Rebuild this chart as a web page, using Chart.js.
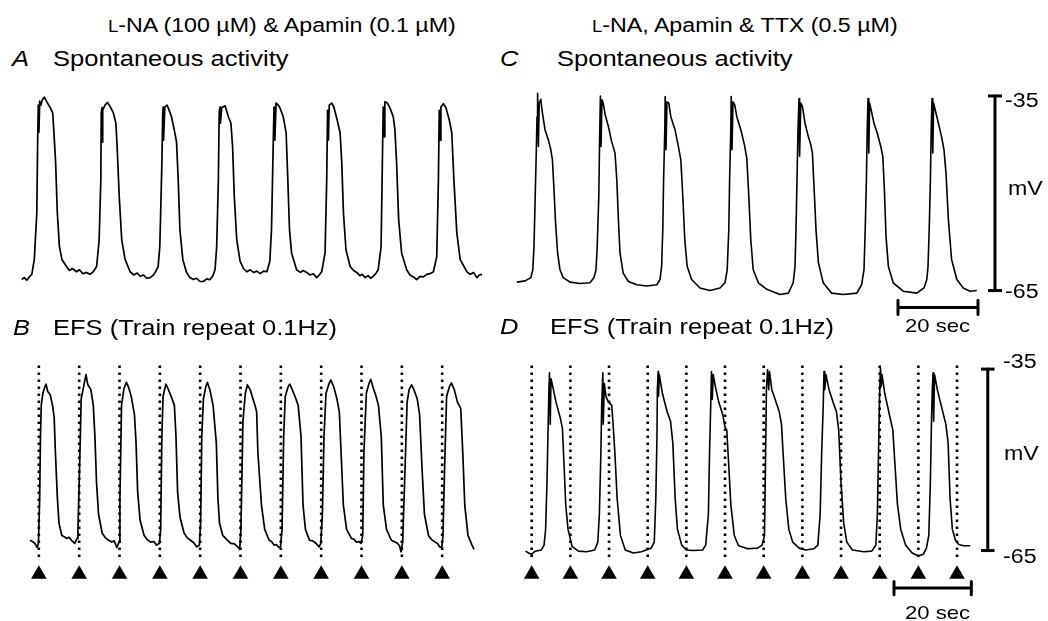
<!DOCTYPE html>
<html><head><meta charset="utf-8">
<script src="https://cdn.jsdelivr.net/npm/chart.js@4.4.1/dist/chart.umd.min.js"></script>
<style>
html,body{margin:0;padding:0;background:#fff;}
body{width:1048px;height:621px;position:relative;overflow:hidden;font-family:"Liberation Sans",Arial,sans-serif;color:#000;}
canvas{position:absolute;}
.t{position:absolute;white-space:nowrap;line-height:1;transform:scaleX(1.16);transform-origin:0 0;}
.ttl{font-size:20px;top:15px;}
.hd{font-size:22px;}
.it{font-style:italic;}
.sc{font-size:20px;}
.sec{font-size:19px;}
</style></head><body>
<canvas id="cA" width="502" height="240" style="left:0;top:83px"></canvas>
<canvas id="cC" width="540" height="240" style="left:508px;top:83px"></canvas>
<canvas id="cB" width="502" height="266" style="left:0;top:348px"></canvas>
<canvas id="cD" width="540" height="266" style="left:508px;top:348px"></canvas>

<div class="t ttl" style="left:108px"><span style="font-size:0.8em">L</span>-NA (100 µM) &amp; Apamin (0.1 µM)</div>
<div class="t ttl" style="left:592px"><span style="font-size:0.8em">L</span>-NA, Apamin &amp; TTX (0.5 µM)</div>
<div class="t hd it" style="left:12px;top:48.4px">A</div>
<div class="t hd" style="left:53px;top:48.4px">Spontaneous activity</div>
<div class="t hd it" style="left:500px;top:48.4px">C</div>
<div class="t hd" style="left:557px;top:48.4px">Spontaneous activity</div>
<div class="t hd it" style="left:13px;top:317.4px">B</div>
<div class="t hd" style="left:53px;top:317.4px">EFS (Train repeat 0.1Hz)</div>
<div class="t hd it" style="left:500px;top:316.4px">D</div>
<div class="t hd" style="left:550px;top:316.4px">EFS (Train repeat 0.1Hz)</div>
<div class="t sc" style="left:1005px;top:90px">-35</div>
<div class="t sc" style="left:1008px;top:178px">mV</div>
<div class="t sc" style="left:1005px;top:281px">-65</div>
<div class="t sc" style="left:1003px;top:351px">-35</div>
<div class="t sc" style="left:1004px;top:443px">mV</div>
<div class="t sc" style="left:1003px;top:546px">-65</div>
<div class="t sec" style="left:905px;top:316px">20 sec</div>
<div class="t sec" style="left:905px;top:603px">20 sec</div>

<script>
// time (s), membrane potential (mV)
const traceA = [
[5.2,-63.3],[5.8,-63.0],[6.4,-63.4],[7.0,-62.9],[7.6,-62.5],[8.2,-60.2],[8.8,-53.0],[9.0,-42.0],[9.15,-36.4],[9.3,-40.6],[9.5,-35.8],[9.8,-36.4],[10.1,-35.6],[10.6,-35.2],[11.2,-35.9],[12.0,-36.8],[12.6,-37.6],[12.9,-40.7],[13.3,-45.3],[13.7,-53.0],[14.2,-58.2],[14.8,-60.2],[15.9,-61.3],[16.6,-61.9],[17.3,-61.6],[18.3,-62.1],[19.0,-61.8],[19.8,-62.4],[20.7,-62.2],[21.5,-62.5],[22.3,-62.1],[23.1,-61.3],
[23.7,-57.2],[24.1,-47.9],[24.2,-37.6],[24.4,-36.8],[24.5,-42.1],[24.6,-37.2],[25.1,-36.4],[25.7,-36.0],[26.3,-36.6],[27.1,-37.6],[27.7,-39.2],[28.0,-42.8],[28.5,-50.5],[29.1,-57.2],[29.9,-60.2],[31.1,-62.1],[32.0,-62.6],[32.8,-62.3],[33.5,-62.8],[34.3,-62.6],[35.1,-63.1],[35.9,-63.0],[36.5,-62.7],[37.1,-62.2],[37.8,-61.3],
[38.2,-58.2],[38.7,-45.3],[38.9,-37.6],[39.0,-36.7],[39.1,-41.8],[39.4,-36.7],[39.9,-36.4],[40.2,-36.8],[41.0,-38.2],[41.8,-40.7],[42.2,-42.1],[42.6,-47.9],[43.0,-55.6],[43.7,-60.2],[44.6,-62.2],[45.4,-63.0],[46.2,-63.3],[47.0,-63.1],[47.8,-63.6],[48.6,-63.6],[49.4,-63.2],[50.2,-63.3],[50.9,-62.7],[51.4,-61.8],[51.8,-58.2],
[52.2,-47.9],[52.4,-37.5],[52.6,-36.7],[52.7,-39.2],[53.0,-36.8],[53.8,-36.5],[54.6,-38.2],[55.2,-39.2],[55.6,-42.8],[56.0,-50.5],[56.6,-57.2],[57.4,-60.5],[58.2,-61.6],[59.0,-62.1],[59.8,-61.8],[60.6,-62.2],[61.4,-62.0],[62.2,-62.4],[63.0,-62.0],[63.8,-62.1],[64.5,-60.5],
[64.9,-55.6],[65.3,-42.8],[65.5,-36.7],[65.7,-41.8],[66.0,-36.1],[66.5,-36.4],[66.9,-36.8],[67.7,-38.2],[68.4,-40.7],[68.8,-47.9],[69.2,-55.6],[69.7,-59.2],[70.9,-61.8],[71.8,-62.2],[72.5,-61.9],[73.3,-62.2],[74.1,-62.6],[74.9,-62.4],[75.7,-63.0],[76.3,-62.6],[76.9,-62.1],[77.7,-59.2],
[78.1,-47.9],[78.3,-37.2],[78.5,-41.8],[78.7,-36.4],[79.3,-36.1],[79.8,-36.7],[80.6,-38.7],[81.3,-40.7],[81.7,-45.3],[82.1,-53.0],[82.7,-58.7],[83.7,-61.3],[84.5,-61.9],[85.3,-62.2],[86.0,-62.7],[86.6,-62.5],[87.3,-63.0],[88.0,-62.7],[88.6,-63.1],[89.2,-62.8],[89.8,-62.4],[90.4,-61.8],[91.1,-58.2],
[91.4,-45.3],[91.6,-36.7],[91.8,-41.3],[92.0,-35.9],[92.6,-36.1],[93.2,-36.8],[94.0,-38.2],[94.4,-40.2],[94.8,-45.3],[95.3,-54.1],[96.0,-59.2],[97.2,-61.8],[98.0,-62.6],[98.8,-62.9],[99.6,-63.3],[100.4,-62.8],[101.2,-62.9],[102.0,-62.5],[102.8,-62.4],[103.6,-62.1],[104.4,-59.8],
[104.8,-47.9],[105.0,-37.2],[105.2,-41.8],[105.4,-36.7],[106.0,-36.2],[106.6,-36.8],[107.4,-38.7],[108.0,-40.7],[108.5,-47.9],[109.2,-56.1],[110.0,-60.2],[111.6,-62.1],[112.4,-62.5],[113.2,-62.2],[114.0,-63.0],[114.6,-62.6],[115.2,-62.5]
];

const traceB = [
[5.2,-63.3],[5.8,-63.5],[6.4,-63.8],[7.0,-64.5],[7.3,-63.8],[7.6,-56.4],[7.8,-46.1],[8.0,-41.0],[8.4,-39.0],[8.9,-37.9],[9.2,-37.5],[9.6,-38.7],[10.2,-39.2],[10.8,-41.0],[11.2,-43.0],[11.5,-48.7],[12.0,-56.4],[12.4,-60.5],[13.1,-62.5],[13.7,-62.7],[14.3,-63.0],[14.9,-62.8],[15.5,-63.3],[16.3,-63.8],[16.9,-63.0],
[17.1,-61.5],[17.5,-51.3],[17.9,-39.9],[18.5,-37.9],[19.1,-35.9],[19.5,-37.5],[20.3,-38.4],[20.9,-41.0],[21.3,-46.1],[21.7,-53.8],[22.2,-59.0],[23.1,-62.1],[23.9,-62.9],[24.7,-63.3],[25.5,-63.6],[26.1,-63.4],[26.7,-64.5],
[27.3,-63.6],[27.5,-56.4],[27.9,-41.0],[28.5,-38.2],[29.1,-37.2],[29.6,-37.9],[30.3,-39.5],[31.1,-42.5],[31.5,-47.2],[31.9,-55.3],[32.5,-60.0],[33.5,-62.5],[34.3,-63.2],[35.1,-63.6],[35.9,-63.5],[36.6,-64.1],[37.3,-63.8],
[37.6,-61.5],[37.9,-46.1],[38.2,-39.5],[38.9,-37.5],[39.4,-38.2],[40.2,-39.5],[41.0,-41.0],[41.4,-46.1],[41.8,-55.3],[42.4,-59.5],[43.4,-62.1],[44.2,-62.9],[45.0,-63.3],[45.8,-63.7],[46.6,-64.4],[47.2,-64.1],
[47.5,-60.5],[47.8,-46.1],[48.2,-39.9],[48.8,-37.9],[49.2,-37.2],[49.8,-38.4],[50.6,-41.0],[51.4,-47.2],[51.8,-56.4],[52.2,-60.5],[53.0,-62.5],[54.0,-63.2],[55.0,-63.8],[55.9,-63.9],[56.7,-64.4],[57.2,-64.8],
[57.5,-61.5],[58.0,-43.6],[58.6,-39.0],[59.1,-37.6],[59.8,-38.4],[61.0,-41.0],[61.4,-42.1],[61.7,-48.7],[62.6,-57.5],[63.4,-61.5],[64.5,-63.3],[65.1,-63.5],[65.7,-64.1],[66.3,-64.0],[66.9,-64.5],[67.3,-64.4],
[67.7,-61.5],[68.1,-46.1],[68.5,-39.5],[69.2,-37.9],[69.6,-37.5],[70.1,-38.2],[70.9,-39.5],[71.7,-41.0],[72.4,-46.1],[72.9,-57.5],[73.5,-61.5],[74.5,-63.3],[75.3,-63.4],[76.1,-63.8],[76.9,-64.4],[77.3,-63.8],
[77.7,-59.0],[78.1,-46.1],[78.6,-39.0],[79.3,-37.5],[79.8,-36.8],[80.5,-37.9],[81.3,-39.9],[81.9,-42.1],[82.5,-51.3],[82.9,-57.5],[83.7,-61.5],[84.9,-63.0],[85.5,-63.1],[86.1,-63.6],[86.7,-63.5],[87.3,-63.8],
[87.7,-62.5],[88.0,-48.7],[88.6,-39.0],[89.2,-37.5],[89.7,-36.7],[90.2,-37.9],[91.0,-39.5],[91.6,-41.0],[92.3,-46.1],[92.8,-57.5],[93.6,-61.5],[94.8,-63.3],[95.5,-63.5],[96.3,-63.8],[96.8,-64.2],[97.2,-65.2],
[97.6,-63.6],[98.2,-51.3],[98.7,-40.5],[99.2,-38.4],[99.8,-37.6],[100.4,-38.4],[101.2,-39.9],[101.8,-42.5],[102.4,-51.3],[103.0,-59.0],[104.0,-62.5],[104.8,-63.2],[105.6,-63.6],[106.2,-63.8],[106.8,-64.4],[107.3,-64.5],
[107.6,-62.5],[108.0,-51.3],[108.5,-39.5],[109.2,-37.9],[109.7,-37.3],[110.4,-38.4],[111.2,-40.5],[112.0,-41.5],[112.5,-48.7],[113.0,-57.5],[113.8,-62.5],[114.8,-64.1],[115.3,-64.8]
];

const traceC = [
[2.2,-63.7],[4.3,-63.5],[5.7,-63.0],[6.2,-61.8],[6.5,-58.2],[6.8,-50.5],[7.1,-42.8],[7.25,-38.2],[7.4,-34.6],[7.6,-42.8],[7.8,-36.1],[8.2,-35.5],[8.5,-37.2],[9.25,-40.2],[10.1,-41.8],[10.7,-43.3],[11.1,-44.8],[11.5,-49.5],[11.9,-54.6],[12.4,-59.2],[13.0,-61.8],[13.8,-63.0],[15.5,-63.7],[18.0,-63.9],[20.5,-63.8],[21.5,-63.0],
[22.0,-61.8],[22.3,-58.2],[22.7,-50.5],[22.9,-41.8],[23.1,-35.0],[23.25,-42.8],[23.5,-35.6],[23.8,-36.1],[24.3,-37.9],[25.1,-39.7],[25.9,-42.0],[26.75,-43.8],[27.2,-47.9],[27.6,-54.1],[28.0,-59.2],[28.8,-62.3],[30.1,-63.6],[32.2,-64.1],[34.7,-64.3],[37.2,-64.1],[38.0,-63.3],
[38.4,-61.3],[38.7,-55.6],[38.9,-47.9],[39.2,-40.2],[39.3,-35.1],[39.5,-43.3],[39.75,-35.9],[40.2,-36.1],[40.7,-38.2],[41.75,-40.2],[42.6,-42.8],[43.2,-44.8],[43.7,-50.5],[44.2,-57.2],[44.8,-61.3],[45.9,-63.3],[48.0,-64.6],[50.5,-65.0],[53.0,-64.6],[54.25,-63.8],
[54.8,-61.8],[55.2,-55.6],[55.4,-47.9],[55.7,-40.2],[55.8,-35.1],[56.0,-43.3],[56.25,-35.9],[56.7,-36.4],[57.2,-38.2],[58.2,-40.2],[59.1,-42.5],[59.7,-44.6],[60.2,-50.5],[60.7,-57.2],[61.3,-61.8],[62.6,-63.8],[64.7,-64.8],[67.2,-65.4],[68.0,-65.6],[70.1,-65.4],[71.3,-63.8],
[71.75,-61.3],[72.0,-55.6],[72.25,-47.9],[72.5,-40.2],[72.75,-35.4],[72.9,-44.3],[73.2,-36.1],[73.6,-36.6],[74.25,-39.2],[75.1,-41.3],[75.7,-42.5],[76.1,-43.8],[76.5,-48.9],[77.0,-55.6],[77.6,-60.7],[78.8,-63.8],[80.9,-65.4],[83.8,-65.6],[87.2,-65.4],[88.4,-64.1],
[89.0,-61.8],[89.3,-55.6],[89.6,-47.9],[89.8,-40.2],[90.0,-35.4],[90.2,-43.8],[90.4,-36.1],[90.8,-37.2],[91.5,-39.2],[92.3,-40.7],[93.2,-42.8],[93.7,-44.3],[94.1,-49.5],[94.5,-56.6],[95.1,-61.3],[96.3,-63.8],[98.8,-65.1],[102.2,-65.4],[104.0,-64.6],[104.7,-63.3],
[105.0,-61.3],[105.3,-55.6],[105.6,-47.9],[105.8,-40.2],[106.0,-35.4],[106.2,-43.8],[106.4,-36.1],[106.9,-37.4],[107.6,-39.2],[108.4,-41.3],[109.0,-43.3],[109.5,-46.9],[110.1,-54.1],[110.9,-60.2],[112.2,-63.3],[113.8,-64.6],[115.5,-65.1],[117.2,-65.0]
];

const traceD = [
[2.2,-65.1],[3.0,-65.4],[3.8,-65.6],[4.7,-65.1],[6.3,-64.9],[7.0,-64.1],[7.4,-61.5],[7.75,-53.8],[8.0,-46.1],[8.25,-38.4],[8.4,-35.6],[8.6,-44.1],[8.8,-36.6],[9.25,-37.9],[10.1,-40.5],[11.2,-43.1],[11.75,-44.8],[12.2,-51.3],[12.6,-57.4],[13.2,-61.5],[14.25,-64.3],[15.9,-65.1],[18.0,-65.2],[20.1,-64.9],[20.9,-63.6],
[21.3,-59.0],[21.7,-48.7],[21.9,-41.0],[22.2,-35.6],[22.3,-44.1],[22.6,-37.4],[23.0,-39.5],[23.7,-40.5],[24.5,-41.0],[24.8,-43.6],[25.3,-48.7],[25.9,-56.4],[26.75,-62.5],[28.0,-64.9],[30.1,-65.4],[32.2,-65.2],[33.4,-64.9],[34.7,-64.6],[35.5,-63.6],
[35.9,-56.4],[36.2,-46.1],[36.3,-38.4],[36.5,-35.4],[36.6,-39.5],[36.8,-35.9],[37.6,-39.0],[38.8,-42.0],[39.7,-43.6],[40.3,-47.2],[40.9,-56.4],[41.5,-61.5],[42.6,-64.1],[43.8,-64.9],[45.5,-65.0],[48.0,-64.9],[48.8,-64.1],
[49.5,-59.0],[49.8,-48.7],[50.1,-41.0],[50.3,-35.4],[50.5,-40.0],[50.75,-35.9],[51.3,-37.9],[52.2,-40.5],[53.2,-42.5],[53.8,-44.6],[54.25,-45.1],[54.7,-50.2],[55.3,-57.4],[56.2,-62.5],[57.3,-64.2],[59.7,-64.7],[62.2,-64.6],[63.4,-64.1],[64.0,-62.5],
[64.25,-51.3],[64.5,-38.4],[64.8,-35.1],[65.1,-38.4],[65.3,-35.4],[65.9,-38.4],[66.75,-40.0],[67.8,-42.0],[68.4,-44.1],[68.8,-48.7],[69.5,-56.4],[70.3,-61.5],[71.3,-63.6],[73.0,-64.6],[74.7,-64.9],[76.75,-64.7],[77.8,-64.1],
[78.4,-59.0],[78.8,-48.7],[79.2,-41.0],[79.4,-35.4],[79.6,-38.4],[79.9,-35.9],[80.7,-38.4],[81.75,-40.5],[82.6,-42.0],[83.2,-45.1],[83.8,-53.8],[84.5,-60.5],[85.3,-63.6],[86.75,-64.9],[89.7,-65.2],[91.75,-65.1],[92.8,-64.1],
[93.2,-59.0],[93.5,-48.7],[93.75,-40.0],[94.0,-34.8],[94.2,-37.9],[94.4,-35.9],[95.1,-39.0],[96.3,-42.5],[97.2,-45.1],[97.8,-51.3],[98.4,-57.4],[99.25,-61.5],[100.5,-64.1],[102.2,-65.4],[103.8,-65.9],[105.1,-65.6],[105.9,-64.6],[106.5,-62.5],
[106.9,-53.8],[107.2,-43.6],[107.4,-38.4],[107.6,-35.6],[107.75,-43.6],[108.0,-35.9],[108.7,-38.4],[109.7,-41.0],[110.9,-44.1],[111.5,-47.2],[112.0,-56.4],[112.6,-61.5],[113.4,-63.3],[114.25,-64.0],[115.5,-64.2],[117.2,-64.2]
];

// stimulus times (s), 0.1 Hz trains
const stimB = [7.4, 17.4, 27.4, 37.4, 47.4, 57.4, 67.4, 77.4, 87.4, 97.4, 107.4];
const stimD = [3.8, 13.8, 23.8, 33.8, 43.8, 53.8, 63.8, 73.8, 83.8, 93.8, 103.8, 113.8];

// scale bars: voltage range (mV) and time length (s)
const voltBar = [-35, -65];
const timeBarLength = [20];

function line(pts, w, extra) {
  return Object.assign({
    data: pts.map(p => ({x: p[0], y: p[1]})),
    showLine: true, borderColor: '#000', backgroundColor: '#000',
    borderWidth: w, pointRadius: 0, tension: 0,
    borderJoinStyle: 'round', borderCapStyle: 'butt'
  }, extra || {});
}

function stimSets(stim) {
  const out = stim.map(t => line([[t, -34.4], [t, -66.6]], 2.6, {borderDash: [2.6, 4.4]}));
  out.push({
    data: stim.map(t => ({x: t, y: -68.9})),
    showLine: false, pointStyle: 'triangle', pointRadius: 9,
    backgroundColor: '#000', borderColor: '#000', borderWidth: 0
  });
  return out;
}

function scaleSets(timeY) {
  const bx = 121.75, t0 = 97.5, t1 = t0 + timeBarLength[0];
  return [
    line([[bx, voltBar[0]], [bx, voltBar[1]]], 3),
    line([[120, voltBar[0]], [123.5, voltBar[0]]], 3),
    line([[120, voltBar[1]], [123.5, voltBar[1]]], 3),
    line([[t0, timeY], [t1, timeY]], 3),
    line([[t0, timeY + 1.1], [t0, timeY - 1.1]], 3),
    line([[t1, timeY + 1.1], [t1, timeY - 1.1]], 3)
  ];
}

function mk(id, xmax, ymin, ymax, datasets) {
  new Chart(document.getElementById(id), {
    type: 'scatter',
    data: {datasets: datasets},
    options: {
      responsive: false, animation: false, events: [],
      devicePixelRatio: 1,
      layout: {padding: 0},
      plugins: {legend: {display: false}, tooltip: {enabled: false}},
      scales: {
        x: {type: 'linear', min: 0, max: xmax, display: false},
        y: {type: 'linear', min: ymin, max: ymax, display: false}
      }
    }
  });
}

mk('cA', 120, -70, -33, [line(traceA, 1.7)]);
mk('cC', 135, -70, -33, [line(traceC, 1.6)].concat(scaleSets(-67.6)));
mk('cB', 120, -74, -33, stimSets(stimB).concat([line(traceB, 1.7)]));
mk('cD', 135, -74, -33, stimSets(stimD).concat([line(traceD, 1.6)]).concat(scaleSets(-71.2)));
</script>
</body></html>
